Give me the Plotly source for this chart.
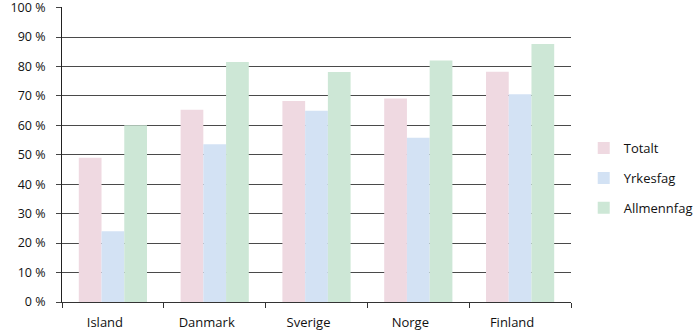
import plotly.graph_objects as go

countries = ["Island", "Danmark", "Sverige", "Norge", "Finland"]
totalt = [49, 65.3, 68.3, 69.1, 78.2]
yrkesfag = [24, 53.6, 65, 55.8, 70.6]
allmennfag = [60, 81.5, 78.1, 82, 87.6]
series_names = ["Totalt", "Yrkesfag", "Allmennfag"]
colors = ["#EFD9E1", "#D3E2F4", "#CDE7D6"]
y_ticks = list(range(0, 101, 10))
y_ticktext = [f"{v} %" for v in y_ticks]

fig = go.Figure()
for i, (name, vals) in enumerate(zip(series_names, [totalt, yrkesfag, allmennfag])):
    fig.add_trace(go.Bar(
        x=countries, y=vals, name=name, legendgroup=name,
        marker=dict(color=colors[i], line=dict(width=0)),
    ))

fig.update_layout(
    width=700, height=333,
    margin=dict(l=62, r=129, t=7, b=31, autoexpand=False),
    paper_bgcolor="white", plot_bgcolor="white",
    barmode="group", bargap=0.33, bargroupgap=0,
    font=dict(family="Open Sans", size=12, color="#111"),
    showlegend=True,
    legend=dict(x=1.025, xanchor="left", y=0.42, yanchor="middle",
                font=dict(size=13), tracegroupgap=10,
                bgcolor="rgba(0,0,0,0)"),
)
fig.update_xaxes(
    type="category", tickson="boundaries", ticks="outside", ticklen=5,
    tickcolor="#333", showline=True, linecolor="#333", linewidth=1,
    showgrid=False, tickfont=dict(size=13), ticklabelstandoff=8,
    ticklabelshift=-8, automargin=False,
)
fig.update_yaxes(
    range=[0, 100.2], tickmode="array", tickvals=y_ticks, ticktext=y_ticktext,
    ticks="outside", ticklen=5, ticklabeloverflow="allow", ticklabelstandoff=8,
    tickcolor="#444", showline=True, linecolor="#222", linewidth=1,
    showgrid=True, gridcolor="#4a4a4a", gridwidth=1, zeroline=False,
    tickfont=dict(size=12.5), automargin=False,
)

fig.write_html("out.html")
